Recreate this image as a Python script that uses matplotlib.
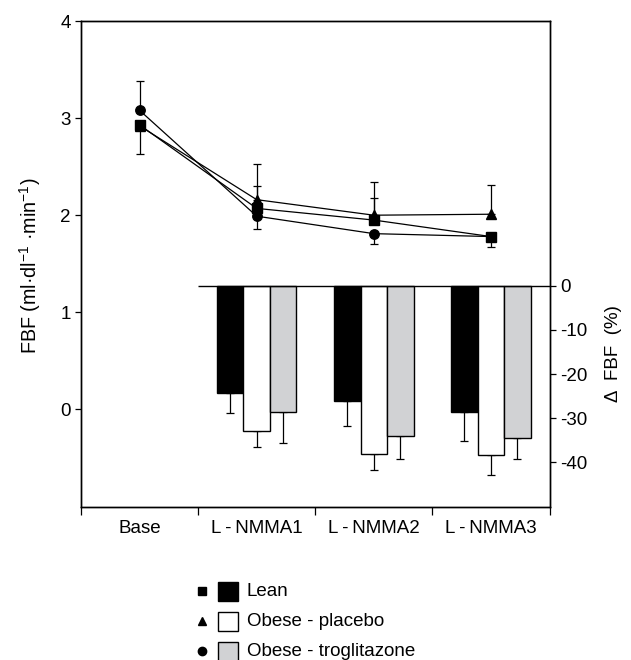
import matplotlib
matplotlib.use("Agg")
import matplotlib.pyplot as plt
from matplotlib.patches import Rectangle
import numpy as np

plt.rcParams['font.family'] = ['Liberation Sans', 'DejaVu Sans']
plt.rcParams['mathtext.fontset'] = 'custom'
plt.rcParams['mathtext.rm'] = 'Liberation Sans'
plt.rcParams['mathtext.it'] = 'Liberation Sans:italic'
plt.rcParams['font.size'] = 13.5

# ---------------- data ----------------
categories = ["Base", "L\u2009-\u2009NMMA1", "L\u2009-\u2009NMMA2", "L\u2009-\u2009NMMA3"]
series_names = ["Lean", "Obese - placebo", "Obese - troglitazone"]
markers = ["s", "^", "o"]
bar_colors = ["#000000", "#ffffff", "#d1d2d4"]

# FBF (ml/dl/min), line chart
fbf_lean = [2.93, 2.07, 1.95, 1.78]
fbf_placebo = [2.92, 2.16, 2.00, 2.01]
fbf_trog = [3.08, 1.99, 1.81, 1.78]
fbf_err_up_lean = [0.0, 0.23, 0.23, 0.0]
fbf_err_lo_lean = [0.30, 0.0, 0.0, 0.11]
fbf_err_up_placebo = [0.0, 0.37, 0.34, 0.30]
fbf_err_lo_placebo = [0.0, 0.0, 0.0, 0.0]
fbf_err_up_trog = [0.30, 0.0, 0.0, 0.0]
fbf_err_lo_trog = [0.0, 0.13, 0.11, 0.0]

# Delta FBF (%), bar chart for the L-NMMA doses
dfbf_lean = [-24.3, -26.2, -28.6]
dfbf_placebo = [-32.8, -38.1, -38.4]
dfbf_trog = [-28.5, -34.1, -34.5]
dfbf_err_lean = [4.5, 5.6, 6.5]
dfbf_err_placebo = [3.7, 3.7, 4.4]
dfbf_err_trog = [7.2, 5.1, 4.7]

left_ticks = [0, 1, 2, 3, 4]
right_ticks = [0, -10, -20, -30, -40]
right_ticklabels = ["0", "-10", "-20", "-30", "-40"]

# ---------------- figure ----------------
W, H = 631, 660
fig = plt.figure(figsize=(W / 100, H / 100), dpi=100)
ax = fig.add_axes([81 / W, 1 - 506.5 / H, 468.5 / W, 485.5 / H])

x = np.arange(len(categories))
fbf = [fbf_lean, fbf_placebo, fbf_trog]
ups = [fbf_err_up_lean, fbf_err_up_placebo, fbf_err_up_trog]
los = [fbf_err_lo_lean, fbf_err_lo_placebo, fbf_err_lo_trog]
for vals, up, lo, m in zip(fbf, ups, los, markers):
    ax.errorbar(x, vals, yerr=[lo, up], fmt='none', ecolor='black',
                elinewidth=0.9, capsize=2.6, capthick=0.9, zorder=2)
    ax.plot(x, vals, color='black', lw=0.9, marker=m, ms=6.8,
            mfc='black', mec='black', zorder=3)

ax.set_xlim(-0.5, len(categories) - 0.5)
ax.set_ylim(-1, 4)
ax.set_yticks(left_ticks)
ax.set_yticklabels([str(t) for t in left_ticks])
ax.set_xticks(np.arange(len(categories) + 1) - 0.5)
ax.set_xticklabels([])
ax.set_xticks(x, minor=True)
ax.set_xticklabels(categories, minor=True)
ax.tick_params(axis='x', which='major', direction='out', length=5.5, width=0.9)
ax.tick_params(axis='x', which='minor', length=0, pad=10)
ax.tick_params(axis='y', direction='out', length=4, width=0.9, pad=3.5)
for s in ax.spines.values():
    s.set_linewidth(1.0)
ax.text(-0.109, 0.495, "FBF (ml\u00b7dl$^{-1}$ \u00b7min$^{-1}$)", transform=ax.transAxes,
        rotation=90, ha='center', va='center', fontsize=14.2)

# bars on secondary axis
ax2 = ax.twinx()
bx = x[1:]
bw = 0.226
dvals = [dfbf_lean, dfbf_placebo, dfbf_trog]
derrs = [dfbf_err_lean, dfbf_err_placebo, dfbf_err_trog]
for i, (v, e, c) in enumerate(zip(dvals, derrs, bar_colors)):
    pos = bx + (i - 1) * bw
    ax2.bar(pos, v, width=bw, color=c, edgecolor='black', linewidth=1.0, zorder=2)
    ax2.errorbar(pos, v, yerr=[e, [0] * len(e)], fmt='none', ecolor='black',
                 elinewidth=0.9, capsize=2.6, capthick=0.9, zorder=1)
ax2.hlines(0, 0.5, len(categories) - 0.5, color='black', lw=1.0, zorder=3)
ax2.set_ylim(-50, 60)
ax2.set_yticks(right_ticks)
ax2.set_yticklabels(right_ticklabels)
ax2.tick_params(axis='y', direction='out', length=4, width=0.9, pad=3.5)
for s in ax2.spines.values():
    s.set_linewidth(1.0)
ax2.text(1.137, 0.315, "\u0394  FBF  (%)", transform=ax.transAxes,
         rotation=90, ha='center', va='center')

# legend (manual, in pixel layout)
lax = fig.add_axes([0, 0, 1, 1])
lax.set_xlim(0, W)
lax.set_ylim(H, 0)
lax.axis('off')
row_y = [591, 621, 651]
for yy, name, m, c in zip(row_y, series_names, markers, bar_colors):
    lax.plot([201.5], [yy], marker=m, color='black', ms=6)
    lax.add_patch(Rectangle((218, yy - 9.5), 20, 19, facecolor=c, edgecolor='black', lw=1.0))
    lax.text(247, yy, name, ha='left', va='center')

fig.savefig("out.png", dpi=100)
